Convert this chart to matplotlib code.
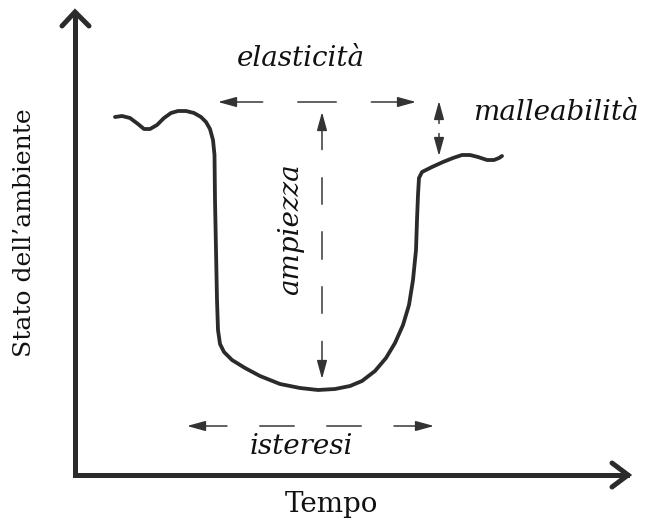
import matplotlib
matplotlib.use("Agg")
import matplotlib.pyplot as plt
import numpy as np

# ---- data (pixel-space coordinates of the sketch, y grows downward) ----
curve_x = [115, 122, 130, 138, 144, 150, 157, 164, 171, 178, 186, 194, 201, 206, 210,
           213, 214.5, 215, 216, 217, 218, 220, 224, 232, 245, 260, 280, 300, 318, 335,
           350, 362, 375, 386, 395, 403, 409, 413, 416, 417, 418, 419, 422, 432, 443,
           453, 462, 470, 478, 487, 494, 499, 502]
curve_y = [117, 116, 118, 124, 129, 129, 125, 118, 113, 111, 111, 113, 117, 122, 129,
           140, 155, 200, 250, 300, 330, 344, 352, 360, 368, 376, 384, 388, 390, 389,
           386, 381, 371, 358, 343, 325, 305, 280, 250, 220, 195, 178, 172, 167, 162,
           158, 155, 155, 157, 160, 160, 158, 156]

labels = ["elasticità", "ampiezza", "malleabilità", "isteresi"]
x_label = "Tempo"
y_label = "Stato dell\u2019ambiente"

W, H = 645, 523
fig = plt.figure(figsize=(W / 100, H / 100), dpi=100)
ax = fig.add_axes([0, 0, 1, 1])
ax.set_xlim(0, W)
ax.set_ylim(H, 0)
ax.axis("off")

PX = 0.72  # points per pixel
dark = "#2b2b2b"

# axes with open chevron heads
ox, oy = 75, 475
ax.plot([ox, ox], [oy, 13], color=dark, lw=5 * PX, solid_capstyle="projecting")
ax.plot([ox, 627], [oy, oy], color=dark, lw=5 * PX, solid_capstyle="projecting")
ax.plot([62, ox, 89], [26, 12, 26], color=dark, lw=5 * PX,
        solid_joinstyle="miter", solid_capstyle="round")
ax.plot([612, 628, 612], [463, oy, 487], color=dark, lw=5 * PX,
        solid_joinstyle="miter", solid_capstyle="round")

# curve
ax.plot(curve_x, curve_y, color=dark, lw=3.8 * PX, solid_capstyle="round",
        solid_joinstyle="round")


def dim_arrow(p0, p1, k, gap, end_extra):
    p0 = np.array(p0, float)
    p1 = np.array(p1, float)
    total = np.linalg.norm(p1 - p0)
    u = (p1 - p0) / total
    L = (total - 2 * end_extra - (k - 1) * gap) / k
    segs = []
    pos = 0.0
    for i in range(k):
        ln = L + (end_extra if i in (0, k - 1) else 0)
        segs.append((pos, pos + ln))
        pos += ln + gap
    for i, (a, b) in enumerate(segs):
        A = p0 + u * a
        B = p0 + u * b
        if i == 0:
            ax.annotate("", xy=A, xytext=B,
                        arrowprops=dict(arrowstyle="-|>,head_length=0.8,head_width=0.22",
                                        color="#333333", lw=1.5 * PX,
                                        shrinkA=0, shrinkB=0, mutation_scale=14))
        elif i == k - 1:
            ax.annotate("", xy=B, xytext=A,
                        arrowprops=dict(arrowstyle="-|>,head_length=0.8,head_width=0.22",
                                        color="#333333", lw=1.5 * PX,
                                        shrinkA=0, shrinkB=0, mutation_scale=14))
        else:
            ax.plot([A[0], B[0]], [A[1], B[1]], color="#333333", lw=1.5 * PX)


dim_arrow((218, 102), (416, 102), 3, 35, 6)
dim_arrow((322, 112), (322, 379), 5, 28, 11)
dim_arrow((439, 101), (439, 156), 2, 10, 0)
dim_arrow((187, 426), (434, 426), 4, 33, 6)

ifont = dict(family="DejaVu Serif", style="italic", fontsize=20, color="#111111")
ax.text(301, 59, labels[0], ha="center", va="center", **ifont)
ax.text(291, 229, labels[1], ha="center", va="center", rotation=90, **ifont)
ax.text(556, 112, labels[2], ha="center", va="center", **ifont)
ax.text(301, 446, labels[3], ha="center", va="center", **ifont)

rfont = dict(family="DejaVu Serif", color="#111111")
ax.text(331, 504, x_label, ha="center", va="center", fontsize=20, **rfont)
ax.text(25, 233, y_label, ha="center", va="center", rotation=90, fontsize=18, **rfont)

fig.savefig("out.png", dpi=100)
